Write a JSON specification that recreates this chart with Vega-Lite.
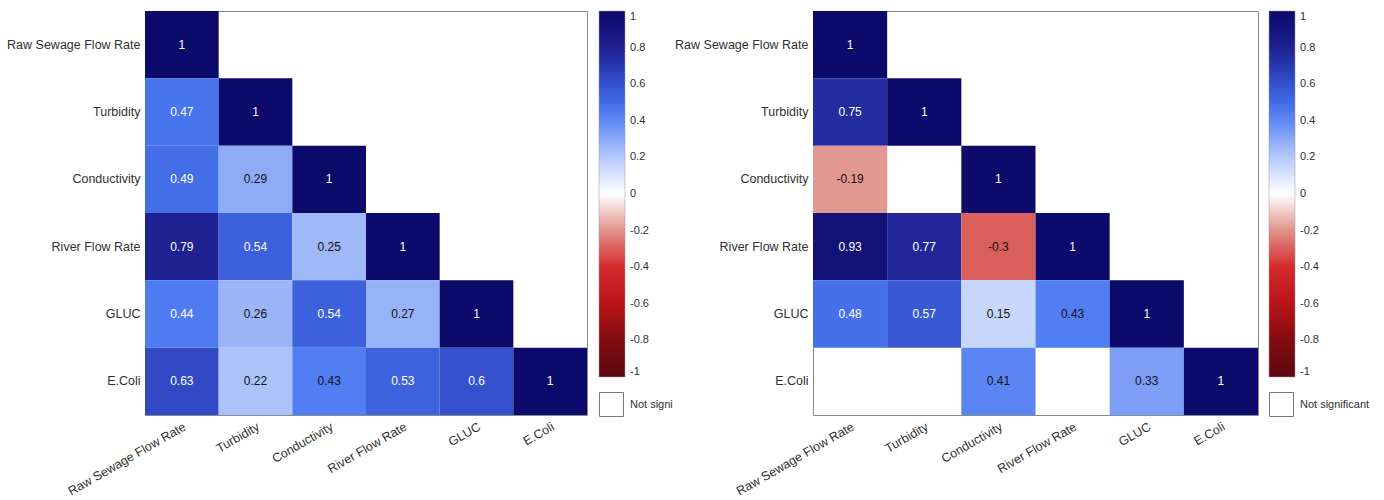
{
  "$schema": "https://vega.github.io/schema/vega-lite/v6.json",
  "background": "white",
  "padding": {"left": 6, "top": 10, "right": 0, "bottom": 0},
  "spacing": 0,
  "resolve": {"scale": {"color": "independent", "shape": "independent"}, "legend": {"color": "independent", "shape": "independent"}},
  "datasets": {
    "left": [
      {"row": "Raw Sewage Flow Rate", "col": "Raw Sewage Flow Rate", "r": 1},
      {"row": "Turbidity", "col": "Raw Sewage Flow Rate", "r": 0.47},
      {"row": "Turbidity", "col": "Turbidity", "r": 1},
      {"row": "Conductivity", "col": "Raw Sewage Flow Rate", "r": 0.49},
      {"row": "Conductivity", "col": "Turbidity", "r": 0.29},
      {"row": "Conductivity", "col": "Conductivity", "r": 1},
      {"row": "River Flow Rate", "col": "Raw Sewage Flow Rate", "r": 0.79},
      {"row": "River Flow Rate", "col": "Turbidity", "r": 0.54},
      {"row": "River Flow Rate", "col": "Conductivity", "r": 0.25},
      {"row": "River Flow Rate", "col": "River Flow Rate", "r": 1},
      {"row": "GLUC", "col": "Raw Sewage Flow Rate", "r": 0.44},
      {"row": "GLUC", "col": "Turbidity", "r": 0.26},
      {"row": "GLUC", "col": "Conductivity", "r": 0.54},
      {"row": "GLUC", "col": "River Flow Rate", "r": 0.27},
      {"row": "GLUC", "col": "GLUC", "r": 1},
      {"row": "E.Coli", "col": "Raw Sewage Flow Rate", "r": 0.63},
      {"row": "E.Coli", "col": "Turbidity", "r": 0.22},
      {"row": "E.Coli", "col": "Conductivity", "r": 0.43},
      {"row": "E.Coli", "col": "River Flow Rate", "r": 0.53},
      {"row": "E.Coli", "col": "GLUC", "r": 0.6},
      {"row": "E.Coli", "col": "E.Coli", "r": 1}
    ],
    "right": [
      {"row": "Raw Sewage Flow Rate", "col": "Raw Sewage Flow Rate", "r": 1},
      {"row": "Turbidity", "col": "Raw Sewage Flow Rate", "r": 0.75},
      {"row": "Turbidity", "col": "Turbidity", "r": 1},
      {"row": "Conductivity", "col": "Raw Sewage Flow Rate", "r": -0.19},
      {"row": "Conductivity", "col": "Conductivity", "r": 1},
      {"row": "River Flow Rate", "col": "Raw Sewage Flow Rate", "r": 0.93},
      {"row": "River Flow Rate", "col": "Turbidity", "r": 0.77},
      {"row": "River Flow Rate", "col": "Conductivity", "r": -0.3},
      {"row": "River Flow Rate", "col": "River Flow Rate", "r": 1},
      {"row": "GLUC", "col": "Raw Sewage Flow Rate", "r": 0.48},
      {"row": "GLUC", "col": "Turbidity", "r": 0.57},
      {"row": "GLUC", "col": "Conductivity", "r": 0.15},
      {"row": "GLUC", "col": "River Flow Rate", "r": 0.43},
      {"row": "GLUC", "col": "GLUC", "r": 1},
      {"row": "E.Coli", "col": "Conductivity", "r": 0.41},
      {"row": "E.Coli", "col": "GLUC", "r": 0.33},
      {"row": "E.Coli", "col": "E.Coli", "r": 1}
    ]
  },
  "config": {
    "font": "Liberation Sans",
    "view": {"stroke": "#8a8a8a", "strokeWidth": 1},
    "axis": {"labelFont": "Liberation Sans", "labelFontSize": 12.5, "labelColor": "#303030", "domain": false, "ticks": false, "grid": false, "title": null, "labelPadding": 5},
    "legend": {"labelFont": "Liberation Sans", "labelFontSize": 11, "labelColor": "#303030"}
  },
  "hconcat": [
    {
      "width": 442,
      "height": 404,
      "data": {"name": "left"},
      "layer": [
        {
          "mark": {"type": "rect"},
          "encoding": {
            "x": {"field": "col", "type": "nominal", "scale": {"domain": ["Raw Sewage Flow Rate", "Turbidity", "Conductivity", "River Flow Rate", "GLUC", "E.Coli"], "paddingInner": 0, "paddingOuter": 0}, "axis": {"labelAngle": -30, "labelAlign": "right", "labelBaseline": "top"}},
            "y": {"field": "row", "type": "nominal", "scale": {"domain": ["Raw Sewage Flow Rate", "Turbidity", "Conductivity", "River Flow Rate", "GLUC", "E.Coli"], "paddingInner": 0, "paddingOuter": 0}},
            "color": {
              "field": "r", "type": "quantitative",
              "scale": {"domain": [-1, -0.8, -0.6, -0.4, -0.2, 0, 0.2, 0.45, 0.65, 0.8, 1], "range": ["#5c0810", "#820c12", "#b81418", "#d42a2c", "#e0928a", "#ffffff", "#b4c8fa", "#4a78f2", "#2e44c0", "#1e2090", "#0c0a6a"], "interpolate": "rgb"},
              "legend": {"orient": "none", "legendX": 454, "legendY": 0, "direction": "vertical", "gradientLength": 366, "gradientThickness": 26, "values": [1, 0.8, 0.6, 0.4, 0.2, 0, -0.2, -0.4, -0.6, -0.8, -1], "labelExpr": "'' + datum.value", "title": null, "labelBaseline": "middle", "labelOffset": 5, "gradientStrokeColor": "#999", "gradientStrokeWidth": 0.5}
            }
          }
        },
        {
          "mark": {"type": "text", "fontSize": 12, "font": "Liberation Sans"},
          "encoding": {
            "x": {"field": "col", "type": "nominal"},
            "y": {"field": "row", "type": "nominal"},
            "text": {"field": "r", "type": "nominal"},
            "color": {"condition": {"test": "datum.r >= 0.44", "value": "#ffffff"}, "value": "#111111"}
          }
        },
        {
          "data": {"values": [{"label": "Not signi"}]},
          "mark": {"type": "point", "opacity": 0},
          "encoding": {
            "shape": {"field": "label", "type": "nominal", "scale": {"range": ["square"]},
              "legend": {"orient": "none", "legendX": 454, "legendY": 381, "title": null, "symbolType": "square", "symbolSize": 576, "symbolFillColor": "#ffffff", "symbolStrokeColor": "#777777", "symbolStrokeWidth": 1, "symbolOpacity": 1, "labelOffset": 6, "labelFontSize": 11}}
          }
        }
      ]
    },
    {
      "width": 445,
      "height": 404,
      "data": {"name": "right"},
      "layer": [
        {
          "mark": {"type": "rect"},
          "encoding": {
            "x": {"field": "col", "type": "nominal", "scale": {"domain": ["Raw Sewage Flow Rate", "Turbidity", "Conductivity", "River Flow Rate", "GLUC", "E.Coli"], "paddingInner": 0, "paddingOuter": 0}, "axis": {"labelAngle": -30, "labelAlign": "right", "labelBaseline": "top"}},
            "y": {"field": "row", "type": "nominal", "scale": {"domain": ["Raw Sewage Flow Rate", "Turbidity", "Conductivity", "River Flow Rate", "GLUC", "E.Coli"], "paddingInner": 0, "paddingOuter": 0}},
            "color": {
              "field": "r", "type": "quantitative",
              "scale": {"domain": [-1, -0.8, -0.6, -0.4, -0.2, 0, 0.2, 0.45, 0.65, 0.8, 1], "range": ["#5c0810", "#820c12", "#b81418", "#d42a2c", "#e0928a", "#ffffff", "#b4c8fa", "#4a78f2", "#2e44c0", "#1e2090", "#0c0a6a"], "interpolate": "rgb"},
              "legend": {"orient": "none", "legendX": 456, "legendY": 0, "direction": "vertical", "gradientLength": 366, "gradientThickness": 26, "values": [1, 0.8, 0.6, 0.4, 0.2, 0, -0.2, -0.4, -0.6, -0.8, -1], "labelExpr": "'' + datum.value", "title": null, "labelBaseline": "middle", "labelOffset": 5, "gradientStrokeColor": "#999", "gradientStrokeWidth": 0.5}
            }
          }
        },
        {
          "mark": {"type": "text", "fontSize": 12, "font": "Liberation Sans"},
          "encoding": {
            "x": {"field": "col", "type": "nominal"},
            "y": {"field": "row", "type": "nominal"},
            "text": {"field": "r", "type": "nominal"},
            "color": {"condition": {"test": "datum.r >= 0.44", "value": "#ffffff"}, "value": "#111111"}
          }
        },
        {
          "data": {"values": [{"label": "Not significant"}]},
          "mark": {"type": "point", "opacity": 0},
          "encoding": {
            "shape": {"field": "label", "type": "nominal", "scale": {"range": ["square"]},
              "legend": {"orient": "none", "legendX": 456, "legendY": 381, "title": null, "symbolType": "square", "symbolSize": 576, "symbolFillColor": "#ffffff", "symbolStrokeColor": "#777777", "symbolStrokeWidth": 1, "symbolOpacity": 1, "labelOffset": 6, "labelFontSize": 11}}
          }
        }
      ]
    }
  ]
}
